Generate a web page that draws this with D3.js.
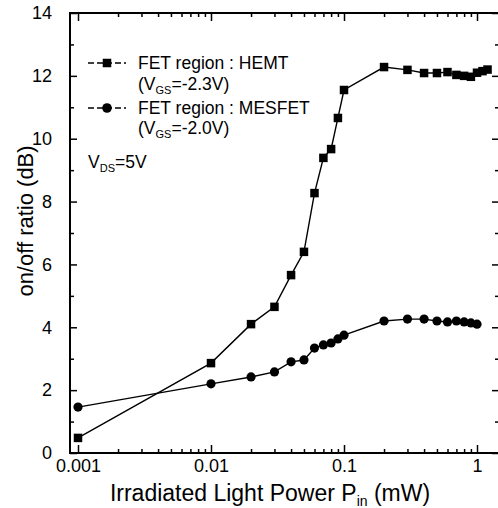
<!DOCTYPE html>
<html>
<head>
<meta charset="utf-8">
<script src="https://cdn.jsdelivr.net/npm/d3@7"></script>
<style>
  body { margin: 0; background: #fff; }
  svg { display: block; font-family: "Liberation Sans", Arial, sans-serif; }
  .tick text { font-size: 18px; fill: #000; }
</style>
</head>
<body>
<svg id="gfx" width="498" height="508"></svg>
<script>
// light power (mW)
const hemtPower = [0.001, 0.01, 0.02, 0.03, 0.04, 0.05, 0.06, 0.07, 0.08, 0.09, 0.1,
                   0.2, 0.3, 0.4, 0.5, 0.6, 0.7, 0.8, 0.9, 1.0, 1.1, 1.2];
const hemtRatio = [0.48, 2.86, 4.1, 4.65, 5.66, 6.4, 8.27, 9.39, 9.67, 10.66, 11.55,
                   12.28, 12.19, 12.09, 12.09, 12.12, 12.03, 12.0, 11.97, 12.1, 12.15, 12.2];

const mesPower = [0.001, 0.01, 0.02, 0.03, 0.04, 0.05, 0.06, 0.07, 0.08, 0.09, 0.1,
                  0.2, 0.3, 0.4, 0.5, 0.6, 0.7, 0.8, 0.9, 1.0];
const mesRatio = [1.46, 2.2, 2.42, 2.58, 2.9, 2.96, 3.34, 3.44, 3.5, 3.63, 3.75,
                  4.2, 4.26, 4.26, 4.2, 4.17, 4.2, 4.17, 4.14, 4.1];

const xMajor = [0.001, 0.01, 0.1, 1];
const xLabels = ["0.001", "0.01", "0.1", "1"];
const yMajor = [0, 2, 4, 6, 8, 10, 12, 14];

const box = { left: 70, right: 499, top: 13, bottom: 453 };

const svg = d3.select("#gfx");

// decade = 133px, 0.001 sits at x=78
const x = d3.scaleLog().domain([0.001, 1]).range([78, 477]);
const y = d3.scaleLinear().domain([0, 14]).range([box.bottom, box.top]);

// minor log ticks 1..9 per decade
const xMinor = [];
[0.001, 0.01, 0.1, 1].forEach(d => {
    for (let k = 2; k <= 9; ++k) {
        const v = d * k;
        if (x(v) < box.right - 2) xMinor.push(v);
    }
});
const yMinor = d3.range(1, 14, 2);

function noDomain(g) { g.select(".domain").remove(); }

// bottom axis
svg.append("g").attr("transform", "translate(0," + box.bottom + ")")
    .call(d3.axisBottom(x).tickValues(xMinor).tickSize(-4).tickFormat(""))
    .call(noDomain);
svg.append("g").attr("transform", "translate(0," + box.bottom + ")")
    .call(d3.axisBottom(x).tickValues(xMajor).tickSize(-8).tickPadding(6)
        .tickFormat((d, i) => xLabels[i]))
    .call(noDomain);

// top axis
svg.append("g").attr("transform", "translate(0," + box.top + ")")
    .call(d3.axisTop(x).tickValues(xMinor).tickSize(-4).tickFormat(""))
    .call(noDomain);
svg.append("g").attr("transform", "translate(0," + box.top + ")")
    .call(d3.axisTop(x).tickValues(xMajor).tickSize(-8).tickFormat(""))
    .call(noDomain);

// left axis
svg.append("g").attr("transform", "translate(" + box.left + ",0)")
    .call(d3.axisLeft(y).tickValues(yMinor).tickSize(-4).tickFormat(""))
    .call(noDomain);
svg.append("g").attr("transform", "translate(" + box.left + ",0)")
    .call(d3.axisLeft(y).tickValues(yMajor).tickSize(-7).tickPadding(18).tickFormat(d3.format("d")))
    .call(noDomain);

// right axis
svg.append("g").attr("transform", "translate(" + box.right + ",0)")
    .call(d3.axisRight(y).tickValues(yMinor).tickSize(-4).tickFormat(""))
    .call(noDomain);
svg.append("g").attr("transform", "translate(" + box.right + ",0)")
    .call(d3.axisRight(y).tickValues(yMajor).tickSize(-7).tickFormat(""))
    .call(noDomain);

svg.selectAll(".tick line").attr("stroke", "#000").attr("stroke-width", 1.5);

// frame
svg.append("rect")
    .attr("x", box.left).attr("y", box.top)
    .attr("width", box.right - box.left).attr("height", box.bottom - box.top)
    .attr("fill", "none").attr("stroke", "#000").attr("stroke-width", 2);

const line = d3.line().x(d => x(d[0])).y(d => y(d[1]));
const hemt = hemtPower.map((p, i) => [p, hemtRatio[i]]);
const mes = mesPower.map((p, i) => [p, mesRatio[i]]);

svg.append("path").datum(hemt).attr("d", line)
    .attr("fill", "none").attr("stroke", "#000").attr("stroke-width", 1.4);
svg.append("path").datum(mes).attr("d", line)
    .attr("fill", "none").attr("stroke", "#000").attr("stroke-width", 1.4);

const sq = 8.5;
svg.append("g").selectAll("rect").data(hemt).join("rect")
    .attr("x", d => x(d[0]) - sq / 2).attr("y", d => y(d[1]) - sq / 2)
    .attr("width", sq).attr("height", sq).attr("fill", "#000");
svg.append("g").selectAll("circle").data(mes).join("circle")
    .attr("cx", d => x(d[0])).attr("cy", d => y(d[1])).attr("r", 4.6).attr("fill", "#000");

// legend
const leg = svg.append("g").attr("font-size", 17.5);
leg.append("line").attr("x1", 88).attr("x2", 126).attr("y1", 63).attr("y2", 63)
    .attr("stroke", "#000").attr("stroke-width", 1.4).attr("stroke-dasharray", "6,3");
leg.append("rect").attr("x", 107 - sq / 2).attr("y", 63 - sq / 2).attr("width", sq).attr("height", sq);
leg.append("line").attr("x1", 88).attr("x2", 126).attr("y1", 108).attr("y2", 108)
    .attr("stroke", "#000").attr("stroke-width", 1.4).attr("stroke-dasharray", "6,3");
leg.append("circle").attr("cx", 107).attr("cy", 108).attr("r", 4.8);

function subText(xp, yp, pre, sub, post) {
    const t = leg.append("text").attr("x", xp).attr("y", yp);
    t.append("tspan").text(pre);
    t.append("tspan").attr("dy", 4).attr("font-size", 11).text(sub);
    t.append("tspan").attr("dy", -4).text(post);
}
leg.append("text").attr("x", 138).attr("y", 69).text("FET region : HEMT");
subText(138, 90, "(V", "GS", "=-2.3V)");
leg.append("text").attr("x", 138).attr("y", 114).text("FET region : MESFET");
subText(138, 134, "(V", "GS", "=-2.0V)");
subText(88, 168, "V", "DS", "=5V");

// axis titles
const xt = svg.append("text").attr("x", 270).attr("y", 501)
    .attr("text-anchor", "middle").attr("font-size", 23);
xt.append("tspan").text("Irradiated Light Power P");
xt.append("tspan").attr("dy", 5).attr("font-size", 14).text("in");
xt.append("tspan").attr("dy", -5).text(" (mW)");

svg.append("text")
    .attr("transform", "translate(33,221) rotate(-90)")
    .attr("text-anchor", "middle").attr("font-size", 22)
    .text("on/off ratio (dB)");
</script>
</body>
</html>
